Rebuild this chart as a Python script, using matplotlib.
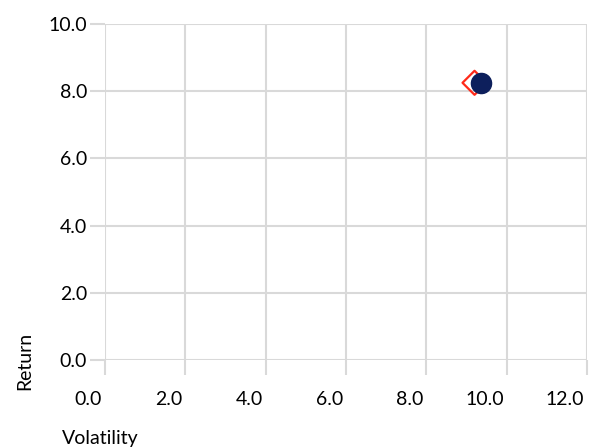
import matplotlib
matplotlib.use('Agg')
import matplotlib.pyplot as plt
from matplotlib.transforms import ScaledTranslation

# Portfolio points (volatility, return)
series_names = ['Benchmark', 'Portfolio']
volatility = [9.2, 9.35]
returns = [8.25, 8.25]

x_ticks = [0.0, 2.0, 4.0, 6.0, 8.0, 10.0, 12.0]
y_ticks = [0.0, 2.0, 4.0, 6.0, 8.0, 10.0]

plt.rcParams['font.family'] = ['Lato', 'DejaVu Sans']
grid_color = '#d9d9d9'

fig = plt.figure(figsize=(5.9, 4.48), dpi=100)
ax = fig.add_axes([105 / 590, 88 / 448, 482 / 590, 336 / 448])

# hollow red diamond, navy circle on top
ax.scatter(volatility[0], returns[0], marker='D', s=150, facecolors='none',
           edgecolors='#ff2a1a', linewidths=1.6, zorder=3, label=series_names[0])
ax.scatter(volatility[1], returns[1], marker='o', s=210, color='#0d1f5c',
           zorder=4, label=series_names[1])

ax.set_xlim(0, 12)
ax.set_ylim(0, 10)
ax.set_xticks(x_ticks)
ax.set_yticks(y_ticks)
ax.set_xticklabels([f"{v:.1f}" for v in x_ticks], ha='right')
ax.set_yticklabels([f"{v:.1f}" for v in y_ticks])
ax.grid(True, color=grid_color, linewidth=1.5)
ax.set_axisbelow(True)
for s in ax.spines.values():
    s.set_visible(False)
ax.tick_params(axis='both', length=11, width=1.5, color=grid_color, labelsize=14)
ax.tick_params(axis='x', pad=11)
ax.tick_params(axis='y', pad=2)

# x labels sit just left of their gridline
shift = ScaledTranslation(-3 / 100, 0, fig.dpi_scale_trans)
for lbl in ax.get_xticklabels():
    lbl.set_transform(lbl.get_transform() + shift)

fig.text(25 / 590, 1 - 390 / 448, 'Return', rotation=90, ha='center', va='bottom', fontsize=14)
fig.text(62 / 590, 1 - 438 / 448, 'Volatility', ha='left', va='center', fontsize=14)

fig.savefig('out.png', dpi=100)
